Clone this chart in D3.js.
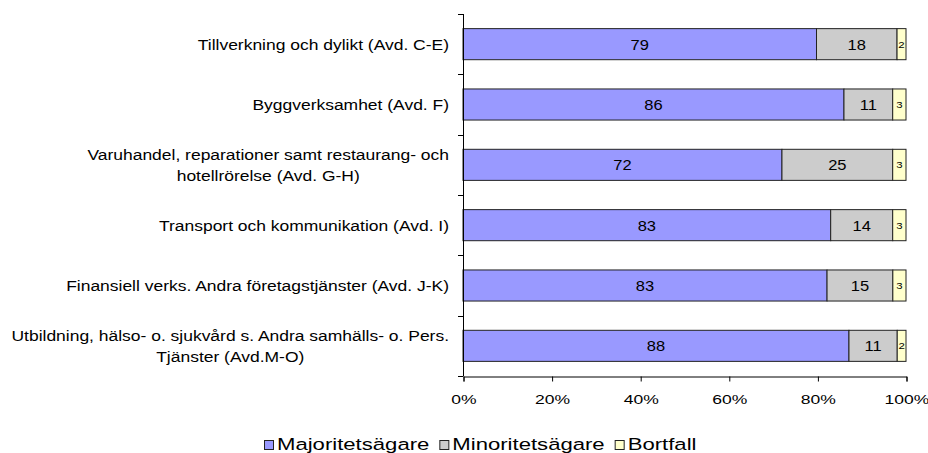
<!DOCTYPE html>
<html>
<head>
<meta charset="utf-8">
<script src="https://cdn.jsdelivr.net/npm/d3@7"></script>
<style>
  html, body { margin: 0; padding: 0; background: #fff; }
  svg { display: block; font-family: Arial, "Liberation Sans", sans-serif; }
</style>
</head>
<body>
<svg id="chart" width="928" height="453"></svg>
<script>
// Category labels (each entry holds the lines of one label)
const categories = [
  ["Tillverkning och dylikt (Avd. C-E)"],
  ["Byggverksamhet (Avd. F)"],
  ["Varuhandel, reparationer samt restaurang- och", "hotellrörelse (Avd. G-H)"],
  ["Transport och kommunikation (Avd. I)"],
  ["Finansiell verks. Andra företagstjänster (Avd. J-K)"],
  ["Utbildning, hälso- o. sjukvård s. Andra samhälls- o. Pers.", "Tjänster (Avd.M-O)"]
];
const seriesNames = ["Majoritetsägare", "Minoritetsägare", "Bortfall"];
const majoritet = [79, 86, 72, 83, 83, 88];
const minoritet = [18, 11, 25, 14, 15, 11];
const bortfall  = [2, 3, 3, 3, 3, 2];
const tickValues = [0, 0.2, 0.4, 0.6, 0.8, 1.0];
const tickLabels = ["0%", "20%", "40%", "60%", "80%", "100%"];
const colors = ["#9999FF", "#CCCCCC", "#FFFFCC"];

// The chart's text is drawn with a horizontal stretch, as in a widened sheet chart
const FONT = "Arial, 'Liberation Sans', sans-serif";
const style = {
  category: { size: 15, sx: 1.165 },
  value:    { size: 15, sx: 1.1 },
  small:    { size: 9.5, sx: 1.2 },
  tick:     { size: 13.5, sx: 1.3 },
  legend:   { size: 16.5, sx: 1.34 }
};

const svg = d3.select("#chart");
const margin = { left: 463, right: 22, top: 14, bottom: 77 };
const W = 928, H = 453;

function stretchedText(parent, x, y, txt, st, anchor) {
  return parent.append("text")
    .attr("transform", `translate(${x},${y}) scale(${st.sx},1)`)
    .attr("text-anchor", anchor || "middle")
    .attr("font-size", st.size)
    .attr("font-family", FONT)
    .attr("fill", "#000")
    .text(txt);
}

const rows = categories.map((c, i) => {
  const vals = [majoritet[i], minoritet[i], bortfall[i]];
  const total = d3.sum(vals);
  let acc = 0;
  const segs = vals.map((v, k) => {
    const s = { k, v, i, x0: acc / total, x1: (acc + v) / total };
    acc += v;
    return s;
  });
  return { i, label: c, segs };
});

const x = d3.scaleLinear().domain([0, 1]).range([margin.left, W - margin.right]);
const y = d3.scaleBand().domain(d3.range(categories.length))
  .range([margin.top, H - margin.bottom]).paddingInner(0.485).paddingOuter(0.2425);

// Bars
const g = svg.append("g");
const rowG = g.selectAll("g.row").data(rows).join("g").attr("class", "row");
rowG.selectAll("rect").data(d => d.segs)
  .join("rect")
  .attr("x", s => x(s.x0))
  .attr("y", s => y(s.i))
  .attr("width", s => x(s.x1) - x(s.x0))
  .attr("height", y.bandwidth())
  .attr("fill", s => colors[s.k])
  .attr("stroke", "#222")
  .attr("stroke-width", 1);

// Value labels
rows.forEach(r => {
  r.segs.forEach(s => {
    const cx = (x(s.x0) + x(s.x1)) / 2;
    const cy = y(s.i) + y.bandwidth() / 2;
    const st = s.k === 2 ? style.small : style.value;
    stretchedText(g, cx, cy + st.size * 0.36, s.v, st);
  });
});

// Left axis line with ticks at category boundaries
const axisG = svg.append("g").attr("stroke", "#000").attr("stroke-width", 1);
axisG.append("line")
  .attr("x1", margin.left + 0.5).attr("x2", margin.left + 0.5)
  .attr("y1", margin.top).attr("y2", H - margin.bottom);
const step = y.step();
d3.range(categories.length + 1).forEach(j => {
  const yy = Math.round(margin.top + j * step) + 0.5;
  axisG.append("line")
    .attr("x1", margin.left - 5).attr("x2", margin.left + 0.5)
    .attr("y1", yy).attr("y2", yy);
});

// Bottom axis
const xAxis = d3.axisBottom(x).tickValues(tickValues)
  .tickFormat((d, i) => tickLabels[i]).tickSize(5);
const bx = svg.append("g")
  .attr("transform", `translate(0.5,${Math.round(H - margin.bottom) + 0.5})`)
  .call(xAxis);
bx.select(".domain").attr("stroke", "#000");
bx.selectAll(".tick line").attr("stroke", "#000");
bx.selectAll(".tick text")
  .attr("font-size", style.tick.size).attr("font-family", FONT).attr("fill", "#000")
  .attr("dy", null).attr("y", 27.5)
  .attr("transform", `scale(${style.tick.sx},1)`);

// Category labels: block right-aligned, lines centred within it
const labG = svg.append("g");
const lineH = 21;
rows.forEach(r => {
  const lines = r.label;
  const cy = y(r.i) + y.bandwidth() / 2;
  const lineY = li => cy + (li - (lines.length - 1) / 2) * lineH + style.category.size * 0.36;
  const texts = lines.map((ln, li) => stretchedText(labG, 0, lineY(li), ln, style.category));
  const maxW = d3.max(texts, t => t.node().getComputedTextLength()) * style.category.sx;
  const center = 449 - maxW / 2;
  texts.forEach((t, li) => {
    t.attr("transform", `translate(${center},${lineY(li)}) scale(${style.category.sx},1)`);
  });
});

// Legend
const leg = svg.append("g");
let lx = 0;
seriesNames.forEach((n, k) => {
  leg.append("rect").attr("x", lx + 0.5).attr("y", -9.5).attr("width", 9).attr("height", 9)
    .attr("fill", colors[k]).attr("stroke", "#222").attr("stroke-width", 1);
  const t = stretchedText(leg, lx + 13, 0, n, style.legend, "start");
  lx += 13 + t.node().getComputedTextLength() * style.legend.sx + 10;
});
const legW = lx - 10;
leg.attr("transform", `translate(${Math.round(480.5 - legW / 2)},450)`);
</script>
</body>
</html>
